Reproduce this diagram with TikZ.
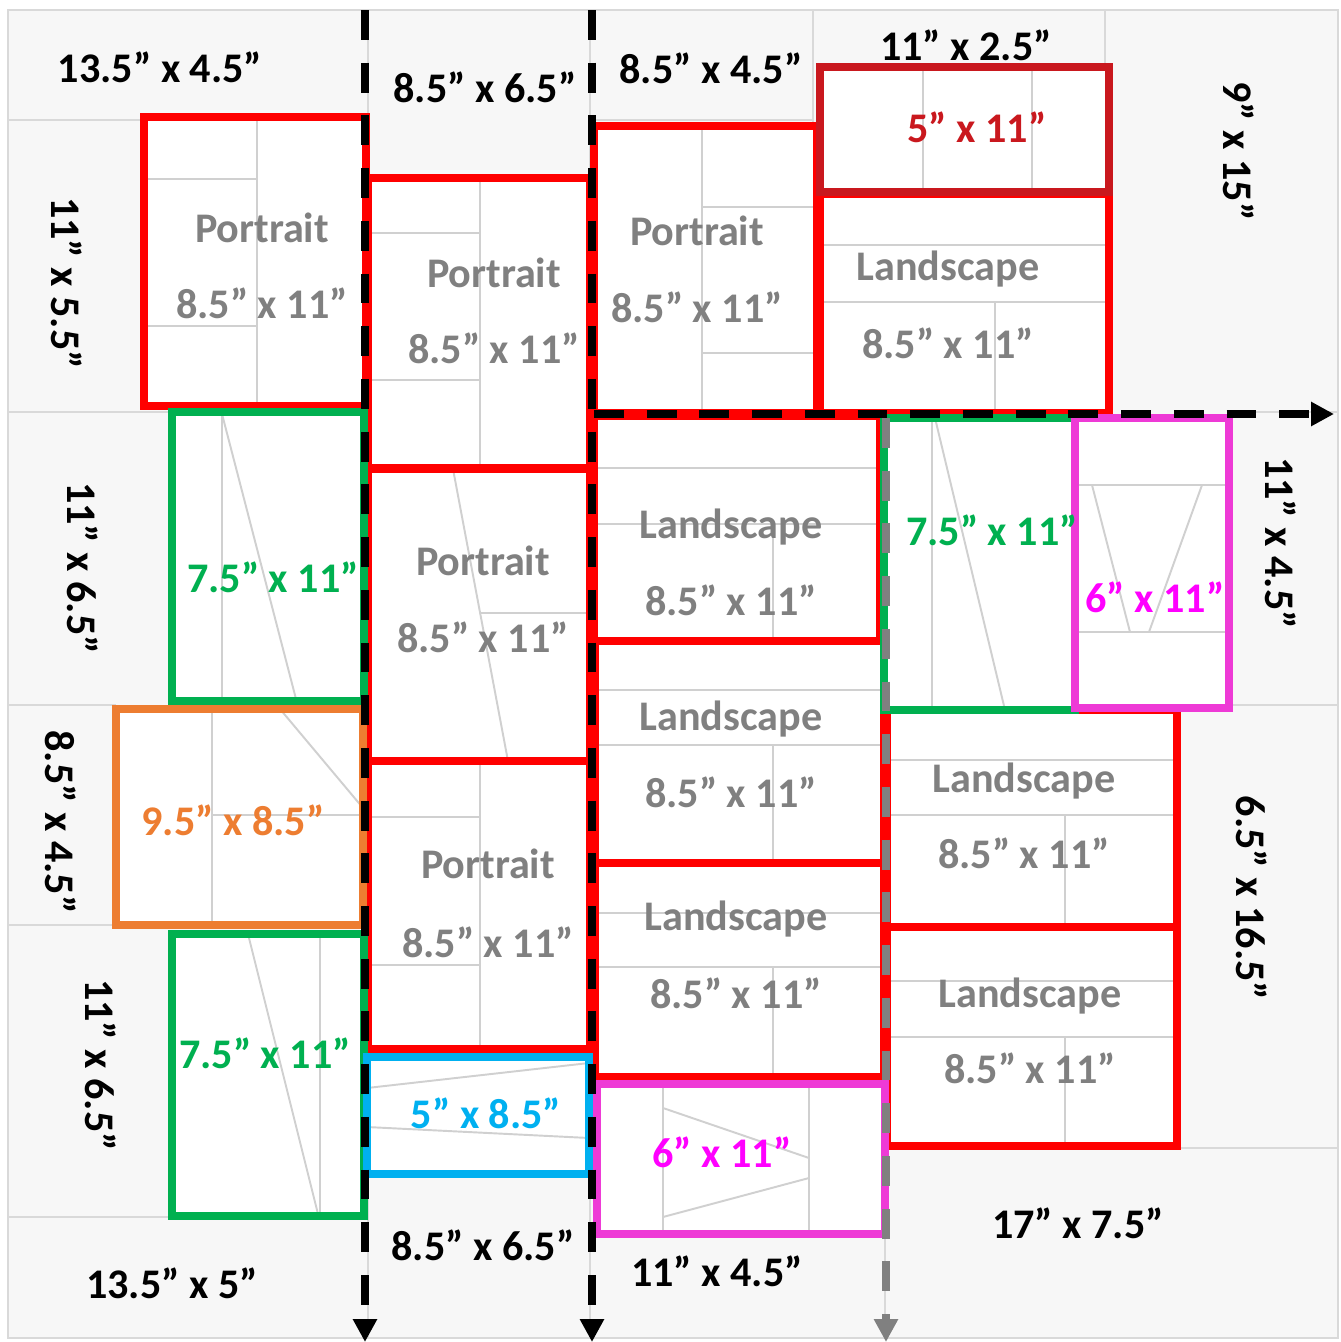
\documentclass[tikz,border=0pt]{standalone}
\usepackage{fontspec}
\setmainfont{Carlito}
\usetikzlibrary{arrows.meta}

\definecolor{sheetgray}{HTML}{F7F7F7}
\definecolor{gridgray}{HTML}{D9D9D9}
\definecolor{innergray}{HTML}{D0D0D0}
\definecolor{labelgray}{HTML}{808080}
\definecolor{boxred}{HTML}{FF0000}
\definecolor{boxdarkred}{HTML}{C9181E}
\definecolor{boxgreen}{HTML}{00B050}
\definecolor{boxorange}{HTML}{ED7D31}
\definecolor{boxblue}{HTML}{00B0F0}
\definecolor{boxmagenta}{HTML}{EE3AD6}
\definecolor{textmagenta}{HTML}{FF00FF}

\newcommand{\dimfont}{\fontsize{24}{28}\selectfont\bfseries}

\begin{document}
\begin{tikzpicture}[x=0.02cm,y=-0.02cm,
  gridline/.style={draw=gridgray,line width=1.2pt},
  innerline/.style={draw=innergray,line width=1.1pt},
  framed/.style={line width=4.5pt},
  cutline/.style={line width=4pt,dash pattern=on 17pt off 13pt,
    -{Triangle[length=13pt,width=13pt]}},
  dimtext/.style={font=\dimfont,anchor=base,inner sep=0pt},
  sizetext/.style={dimtext,text=labelgray},
  rotdim/.style={font=\dimfont,rotate=-90,inner sep=0pt}]

  \useasboundingbox (0,0) rectangle (1341,1342);
  \fill[white] (0,0) rectangle (1341,1342);

  % sheet and its cut grid
  \fill[sheetgray] (8,10) rectangle (1338,1338);
  \draw[gridline] (8,10) rectangle (1338,1338);
  \draw[gridline] (8,120) -- (144,120) (590,120) -- (813,120)
    (813,10) -- (813,126) (1105,10) -- (1105,67)
    (8,412) -- (172,412) (1229,412) -- (1338,412)
    (8,705) -- (116,705) (1229,705) -- (1338,705)
    (8,925) -- (116,925) (8,1217) -- (368,1217)
    (1177,1148) -- (1338,1148)
    (368,10) -- (368,1338) (590,10) -- (590,1338) (885,1234) -- (885,1338);

  % white pieces
  \foreach \xa/\ya/\xb/\yb in {144/117/366/406, 368/178/590/468, 594/126/817/413,
      820/67/1109/192, 820/194/1109/413, 172/412/364/701, 116/709/363/925,
      368/469/590/761, 368/761/590/1049, 367/1057/589/1174, 172/934/364/1216,
      594/416/880/641, 595/641/884/863, 595/863/884/1077, 597/1084/885/1234,
      884/418/1075/710, 1075/418/1229/708, 887/710/1177/927, 887/927/1177/1146}
    \fill[white] (\xa,\ya) rectangle (\xb,\yb);

  % page outlines inside the pieces
  \draw[innerline] (257,117) -- (257,406) (144,179) -- (257,179) (144,326) -- (257,326);
  \draw[innerline] (480,178) -- (480,468) (368,233) -- (480,233) (368,380) -- (480,380);
  \draw[innerline] (702,126) -- (702,413) (702,207) -- (817,207) (702,353) -- (817,353);
  \draw[innerline] (923,67) -- (923,192) (1032,67) -- (1032,192);
  \draw[innerline] (820,245) -- (1109,245) (820,302) -- (1109,302) (995,302) -- (995,413);
  \draw[innerline] (222,412) -- (222,701) (222,414) -- (296,699);
  \draw[innerline] (212,709) -- (212,925) (212,815) -- (363,815) (280,709) -- (363,808);
  \draw[innerline] (453,469) -- (508,761) (480,613) -- (590,613);
  \draw[innerline] (480,761) -- (480,1049) (368,817) -- (480,817) (368,965) -- (480,965);
  \draw[innerline] (367,1088) -- (589,1063) (367,1127) -- (589,1138);
  \draw[innerline] (320,934) -- (320,1216) (248,934) -- (318,1214);
  \draw[innerline] (594,468) -- (880,468) (594,524) -- (880,524) (773,524) -- (773,641);
  \draw[innerline] (595,690) -- (884,690) (595,745) -- (884,745) (773,745) -- (773,863);
  \draw[innerline] (595,913) -- (884,913) (595,967) -- (884,967) (773,967) -- (773,1077);
  \draw[innerline] (663,1084) -- (663,1234) (809,1084) -- (809,1234)
    (663,1108) -- (809,1158) (663,1217) -- (809,1178);
  \draw[innerline] (932,418) -- (932,710) (935,418) -- (1005,710);
  \draw[innerline] (1075,485) -- (1229,485) (1075,632) -- (1229,632)
    (1092,485) -- (1130,632) (1202,485) -- (1149,632);
  \draw[innerline] (887,760) -- (1177,760) (887,815) -- (1177,815) (1065,815) -- (1065,927);
  \draw[innerline] (887,981) -- (1177,981) (887,1037) -- (1177,1037) (1065,1037) -- (1065,1146);

  % piece frames
  \foreach \xa/\ya/\xb/\yb in {144/117/366/406, 368/178/590/468, 594/126/817/413,
      820/194/1109/413, 368/469/590/761, 368/761/590/1049, 594/416/880/641,
      595/641/884/863, 595/863/884/1077, 887/710/1177/927, 887/927/1177/1146}
    \draw[framed,boxred] (\xa,\ya) rectangle (\xb,\yb);
  \draw[framed,boxdarkred] (820,67) rectangle (1109,192);
  \foreach \xa/\ya/\xb/\yb in {172/412/364/701, 172/934/364/1216, 884/418/1075/710}
    \draw[framed,boxgreen] (\xa,\ya) rectangle (\xb,\yb);
  \draw[framed,boxorange] (116,709) rectangle (363,925);
  \draw[framed,boxblue] (367,1057) rectangle (589,1174);
  \draw[framed,boxmagenta] (597,1084) rectangle (885,1234);
  \draw[framed,boxmagenta] (1075,418) rectangle (1229,708);

  % cut lines
  \coordinate (cutAtop) at (365,10);
  \coordinate (cutAend) at (365,1342);
  \coordinate (cutBtop) at (592,10);
  \coordinate (cutBend) at (592,1342);
  \coordinate (cutCleft) at (594,414);
  \coordinate (cutCend) at (1334,414);
  \coordinate (cutDtop) at (886,418);
  \coordinate (cutDend) at (886,1342);
  \draw[cutline,black] (cutAtop) -- (cutAend);
  \draw[cutline,black] (cutBtop) -- (cutBend);
  \draw[cutline,black] (cutCleft) -- (cutCend);
  \draw[cutline,labelgray] (cutDtop) -- (cutDend);

  % page labels
  \node[sizetext] (p1t) at (262,242) {Portrait};
  \node[sizetext] (p1s) at (262,318) {8.5” x 11”};
  \node[sizetext] (p2t) at (494,287) {Portrait};
  \node[sizetext] (p2s) at (494,363) {8.5” x 11”};
  \node[sizetext] (p3t) at (697,245) {Portrait};
  \node[sizetext] (p3s) at (697,322) {8.5” x 11”};
  \node[sizetext] (l1t) at (948,280) {Landscape};
  \node[sizetext] (l1s) at (948,358) {8.5” x 11”};
  \node[sizetext] (p4t) at (483,575) {Portrait};
  \node[sizetext] (p4s) at (483,652) {8.5” x 11”};
  \node[sizetext] (l2t) at (731,538) {Landscape};
  \node[sizetext] (l2s) at (731,615) {8.5” x 11”};
  \node[sizetext] (l3t) at (731,730) {Landscape};
  \node[sizetext] (l3s) at (731,807) {8.5” x 11”};
  \node[sizetext] (p5t) at (488,878) {Portrait};
  \node[sizetext] (p5s) at (488,957) {8.5” x 11”};
  \node[sizetext] (l4t) at (736,930) {Landscape};
  \node[sizetext] (l4s) at (736,1008) {8.5” x 11”};
  \node[sizetext] (l5t) at (1024,792) {Landscape};
  \node[sizetext] (l5s) at (1024,868) {8.5” x 11”};
  \node[sizetext] (l6t) at (1030,1007) {Landscape};
  \node[sizetext] (l6s) at (1030,1083) {8.5” x 11”};

  \node[dimtext,text=boxdarkred] (dr) at (977,142) {5” x 11”};
  \node[dimtext,text=boxgreen] (g1) at (273,592) {7.5” x 11”};
  \node[dimtext,text=boxgreen] (g2) at (265,1068) {7.5” x 11”};
  \node[dimtext,text=boxgreen] (g3) at (992,545) {7.5” x 11”};
  \node[dimtext,text=boxorange] (or) at (233,835) {9.5” x 8.5”};
  \node[dimtext,text=boxblue] (bl) at (486,1128) {5” x 8.5”};
  \node[dimtext,text=textmagenta] (m1) at (722,1167) {6” x 11”};
  \node[dimtext,text=textmagenta] (m2) at (1155,612) {6” x 11”};

  % offcut labels
  \node[dimtext] (oc1) at (160,82) {13.5” x 4.5”};
  \node[dimtext] (oc2) at (485,102) {8.5” x 6.5”};
  \node[dimtext] (oc3) at (711,83) {8.5” x 4.5”};
  \node[dimtext] (oc4) at (966,60) {11” x 2.5”};
  \node[dimtext] (oc5) at (483,1260) {8.5” x 6.5”};
  \node[dimtext] (oc6) at (172,1298) {13.5” x 5”};
  \node[dimtext] (oc7) at (717,1286) {11” x 4.5”};
  \node[dimtext] (oc8) at (1078,1238) {17” x 7.5”};
  \node[rotdim] (oc9) at (67,283) {11” x 5.5”};
  \node[rotdim] (oc10) at (83,568) {11” x 6.5”};
  \node[rotdim] (oc11) at (61,822) {8.5” x 4.5”};
  \node[rotdim] (oc12) at (101,1065) {11” x 6.5”};
  \node[rotdim] (oc13) at (1239,151) {9” x 15”};
  \node[rotdim] (oc14) at (1281,543) {11” x 4.5”};
  \node[rotdim] (oc15) at (1252,898) {6.5” x 16.5”};
\end{tikzpicture}
\end{document}
